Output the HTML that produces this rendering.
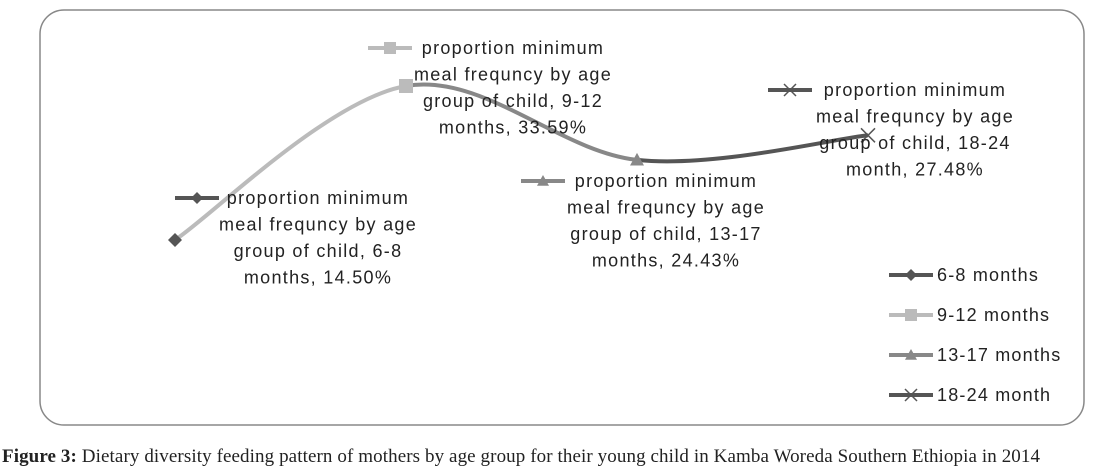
<!DOCTYPE html>
<html><head><meta charset="utf-8"><style>
body{margin:0;background:#fff;width:1094px;height:475px;overflow:hidden}
svg{display:block}
text{font-family:"Liberation Sans",sans-serif;fill:#222}
</style></head><body>
<svg id="chart" width="1094" height="475">
<rect x="40" y="10" width="1044" height="415" rx="24" fill="none" stroke="#888" stroke-width="1.5"/>
<g id="lines"></g><g id="markers"></g><g id="labels"></g><g id="legend"></g>
<text x="2" y="462" style="font-family:'Liberation Serif',serif;font-size:19px" fill="#222" textLength="1038" lengthAdjust="spacing"><tspan font-weight="bold">Figure 3:</tspan> Dietary diversity feeding pattern of mothers by age group for their young child in Kamba Woreda Southern Ethiopia in 2014</text>
</svg>
<script>
const categories=["6-8 months","9-12 months","13-17 months","18-24 month"];
const catLabels=["6-8","9-12","13-17","18-24"];
const unitWord=["months","months","months","month"];
const values=[14.50,33.59,24.43,27.48];
const valueLabels=["14.50%","33.59%","24.43%","27.48%"];
const colors=["#555","#bbb","#888","#555"];
const segColors=["#bbb","#888","#555"];
const NS="http://www.w3.org/2000/svg";
function xS(i){return 175+i*231;}
function yS(v){return 240-(v-14.5)*8.067;}
function mk(tag,attrs,parent){const e=document.createElementNS(NS,tag);for(const k in attrs)e.setAttribute(k,attrs[k]);parent.appendChild(e);return e;}
const pts=values.map((v,i)=>[xS(i),yS(v)]);
const gL=document.getElementById('lines');
for(let i=0;i<pts.length-1;i++){
 const p0=pts[Math.max(i-1,0)],p1=pts[i],p2=pts[i+1],p3=pts[Math.min(i+2,pts.length-1)];
 const c1=[p1[0]+(p2[0]-p0[0])/6,p1[1]+(p2[1]-p0[1])/6],c2=[p2[0]-(p3[0]-p1[0])/6,p2[1]-(p3[1]-p1[1])/6];
 const path=mk('path',{d:`M${p1[0]},${p1[1]} C${c1[0]},${c1[1]} ${c2[0]},${c2[1]} ${p2[0]},${p2[1]}`,fill:'none',stroke:segColors[i],'stroke-width':4},gL);
 
 
}
function marker(type,x,y,c,parent,s){
 let e;
 if(type===0)e=mk('polygon',{points:`${x},${y-s} ${x+s},${y} ${x},${y+s} ${x-s},${y}`,fill:c},parent);
 else if(type===1)e=mk('rect',{x:x-s,y:y-s,width:2*s,height:2*s,fill:c},parent);
 else if(type===2)e=mk('polygon',{points:`${x},${y-s} ${x+s},${y+s*0.8} ${x-s},${y+s*0.8}`,fill:c},parent);
 else e=mk('path',{d:`M${x-s},${y-s}L${x+s},${y+s}M${x+s},${y-s}L${x-s},${y+s}`,stroke:c,'stroke-width':1.5},parent);
 return e;
}
const gM=document.getElementById('markers');
pts.forEach((p,i)=>{const m=marker(i,p[0],p[1],colors[i],gM,7);
 
 });
const labelPos=[[318,198],[513,48],[666,181],[915,90]];
const keyOff=[-121,-123,-123,-125];
const gT=document.getElementById('labels');
values.forEach((v,i)=>{
 const [cx,cy]=labelPos[i];
 const g=mk('g',{},gT);
 
 
 const lines=["proportion minimum","meal frequncy by age","group of child, "+catLabels[i],unitWord[i]+",  "+valueLabels[i]];
 lines.forEach((t,j)=>{const tx=mk('text',{x:cx,y:cy+6+j*26.5,'text-anchor':'middle','font-size':18,'letter-spacing':1.3},g);tx.textContent=t;});
 const kx=cx+keyOff[i],ky=cy;
 mk('line',{x1:kx-22,y1:ky,x2:kx+22,y2:ky,stroke:colors[i],'stroke-width':4},g);
 marker(i,kx,ky,colors[i],g,6);
});
const gG=document.getElementById('legend');
categories.forEach((c,i)=>{
 const y=275+i*40;
 const g=mk('g',{},gG);
 
 
 mk('line',{x1:889,y1:y,x2:933,y2:y,stroke:colors[i],'stroke-width':4},g);
 marker(i,911,y,colors[i],g,6);
 const t=mk('text',{x:937,y:y+6,'font-size':18,'letter-spacing':1.2},g);t.textContent=c;
});
</script>
</body></html>
